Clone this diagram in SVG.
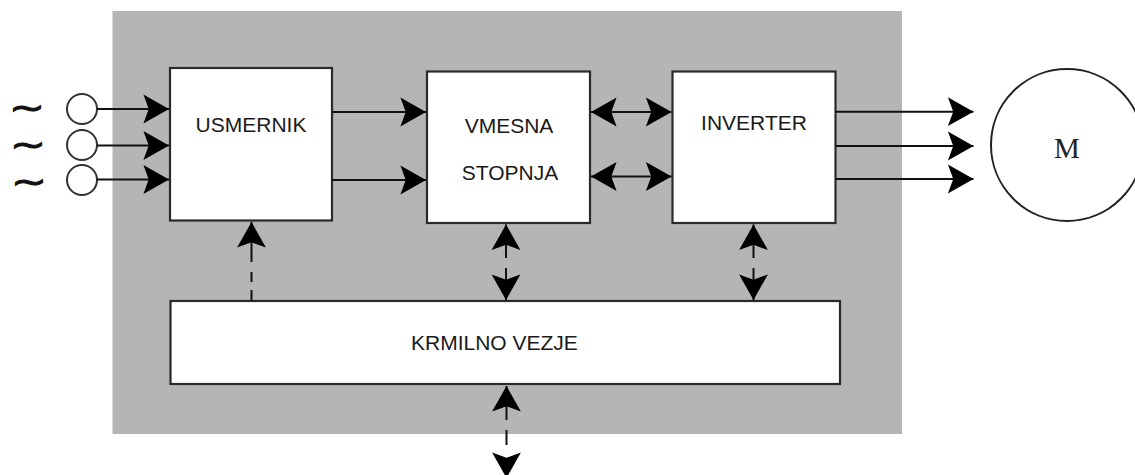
<svg xmlns="http://www.w3.org/2000/svg" width="1135" height="475" viewBox="0 0 1135 475">
  <style>
    .box { fill: #ffffff; stroke: #2a2a2a; stroke-width: 2.2; }
    .lbl { font-family: "Liberation Sans", Arial, sans-serif; font-size: 21px; fill: #1a1a1a; }
    .wire { fill: none; stroke: #111111; stroke-width: 2; }
    .dash { fill: none; stroke: #111111; stroke-width: 2; }
    .src { fill: #ffffff; stroke: #333333; stroke-width: 2; }
    .tilde { font-family: "DejaVu Sans", sans-serif; font-size: 30px; fill: #111111; stroke: #111111; stroke-width: 0.9; }
  </style>
  <defs>
    <marker id="head" markerUnits="userSpaceOnUse" markerWidth="30" markerHeight="32" viewBox="-1 -15 26 30" refX="24" refY="0" orient="auto-start-reverse">
      <path d="M24,0 L0,-13.5 L5,0 L0,13.5 Z" fill="#000000"/>
    </marker>
  </defs>

  <!-- frequency converter enclosure -->
  <rect id="enclosure" x="112.5" y="11" width="789.5" height="423" fill="#b5b5b5"/>

  <!-- three-phase supply -->
  <g id="supply">
    <text class="tilde" text-anchor="middle" transform="translate(27,118.5) scale(1.43,1.1)">~</text>
    <text class="tilde" text-anchor="middle" transform="translate(28,156) scale(1.43,1.1)">~</text>
    <text class="tilde" text-anchor="middle" transform="translate(29,192.5) scale(1.43,1.1)">~</text>
    <circle class="src" cx="82" cy="109" r="15"/>
    <circle class="src" cx="82" cy="145" r="15"/>
    <circle class="src" cx="82" cy="180" r="15"/>
  </g>

  <g id="usmernik">
    <rect class="box" x="170" y="68" width="162" height="152.5"/>
    <text class="lbl" x="251" y="132" text-anchor="middle">USMERNIK</text>
  </g>

  <g id="vmesna-stopnja">
    <rect class="box" x="427" y="71.5" width="163" height="151.5"/>
    <text class="lbl" x="509" y="133" text-anchor="middle">VMESNA</text>
    <text class="lbl" x="510" y="180" text-anchor="middle">STOPNJA</text>
  </g>

  <g id="inverter">
    <rect class="box" x="672.5" y="71.5" width="163" height="151.5"/>
    <text class="lbl" x="754" y="130" text-anchor="middle">INVERTER</text>
  </g>

  <g id="krmilno-vezje">
    <rect class="box" x="170.5" y="301" width="669.5" height="83"/>
    <text class="lbl" x="411" y="349.5">KRMILNO VEZJE</text>
  </g>

  <g id="motor">
    <circle cx="1067" cy="145" r="76" fill="#ffffff" stroke="#222222" stroke-width="2"/>
    <text x="1067" y="158" text-anchor="middle" font-family="Liberation Serif, 'Times New Roman', serif" font-size="29" fill="#222222">M</text>
  </g>

  <g id="connectors">
    <!-- supply to rectifier -->
    <path class="wire" d="M97,109 H169" marker-end="url(#head)"/>
    <path class="wire" d="M97,145.5 H169" marker-end="url(#head)"/>
    <path class="wire" d="M97,179.5 H169" marker-end="url(#head)"/>
    <!-- DC link -->
    <path class="wire" d="M332,112 H426" marker-end="url(#head)"/>
    <path class="wire" d="M332,180 H426" marker-end="url(#head)"/>
    <!-- intermediate stage to inverter -->
    <path class="wire" d="M591,112 H671.5" marker-start="url(#head)" marker-end="url(#head)"/>
    <path class="wire" d="M591,176.5 H671.5" marker-start="url(#head)" marker-end="url(#head)"/>
    <!-- inverter to motor -->
    <path class="wire" d="M835.5,111.7 H973.5" marker-end="url(#head)"/>
    <path class="wire" d="M835.5,146 H973.5" marker-end="url(#head)"/>
    <path class="wire" d="M835.5,179 H973.5" marker-end="url(#head)"/>
    <!-- control signals -->
    <path class="dash" d="M251.5,301 V222" stroke-dasharray="11 8 10 10 40" marker-end="url(#head)"/>
    <path class="dash" d="M506,300 V224.5" stroke-dasharray="32 10 40" marker-start="url(#head)" marker-end="url(#head)"/>
    <path class="dash" d="M753.5,300 V224.5" stroke-dasharray="32 10 40" marker-start="url(#head)" marker-end="url(#head)"/>
    <path class="dash" d="M506.5,478 V386" stroke-dasharray="18 15 15 10 40" marker-start="url(#head)" marker-end="url(#head)"/>
  </g>
</svg>
